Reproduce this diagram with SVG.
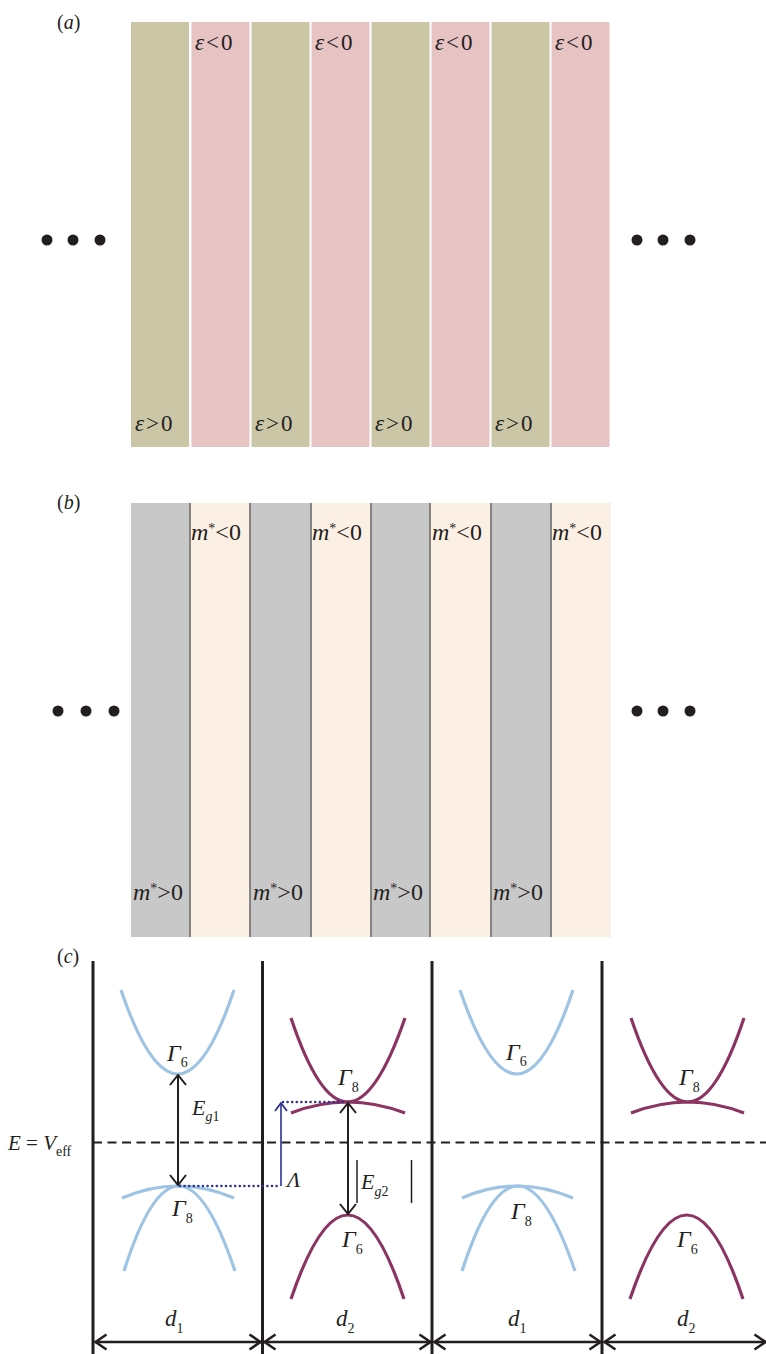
<svg xmlns="http://www.w3.org/2000/svg" width="766" height="1354" viewBox="0 0 766 1354">
<style>
.t{font-family:"Liberation Serif","Times New Roman",serif;fill:#231F20}
.i{font-style:italic}
.ol{fill:#CBC6A6}
.pk{fill:#E8C3C4}
.gr{fill:#C8C8C8}
.pc{fill:#FCEFE4}
.bd{stroke:#6D6E70;stroke-width:1.6}
.dot{fill:#231F20}
.vl{stroke:#231F20;stroke-width:3;fill:none}
.blue{fill:none;stroke:#9DC3E5;stroke-width:3.2}
.pur{fill:none;stroke:#8B3462;stroke-width:3.2}
.eps{font-size:23px;letter-spacing:2px}
.ms{font-size:24px}
.gm{font-size:24px}
.sub{font-size:14px}
.pl{font-size:20px}
.arr{stroke:#231F20;stroke-width:2;fill:none}
.darr{stroke:#231F20;stroke-width:2.6;fill:none}
.nav{stroke:#2E3192;stroke-width:1.6;fill:none}
.ndot{stroke:#2E3192;stroke-width:2.6;stroke-linecap:round;stroke-dasharray:0 4.6;fill:none}
</style>
<defs>
<marker id="hs" viewBox="0 0 12 18" refX="11" refY="9" markerWidth="12" markerHeight="18" markerUnits="userSpaceOnUse" orient="auto-start-reverse">
<path d="M1,1 L11,9 L1,17" fill="none" stroke="#231F20" stroke-width="2"/>
</marker>
<marker id="hd" viewBox="0 0 14 18" refX="13" refY="9" markerWidth="14" markerHeight="18" markerUnits="userSpaceOnUse" orient="auto-start-reverse">
<path d="M1.5,1.5 L12.5,9 L1.5,16.5" fill="none" stroke="#231F20" stroke-width="2.6"/>
</marker>
<marker id="hn" viewBox="0 0 10 14" refX="9" refY="7" markerWidth="10" markerHeight="14" markerUnits="userSpaceOnUse" orient="auto">
<path d="M1,1 L9,7 L1,13" fill="none" stroke="#2E3192" stroke-width="1.8"/>
</marker>
</defs>

<g id="panel-a">
<text class="t pl" x="57" y="29">(<tspan class="i">a</tspan>)</text>
<rect class="ol" x="131" y="22" width="58" height="425" rx="1"/>
<rect class="pk" x="191.5" y="22" width="58" height="425" rx="1"/>
<rect class="ol" x="251.5" y="22" width="58" height="425" rx="1"/>
<rect class="pk" x="311.5" y="22" width="58" height="425" rx="1"/>
<rect class="ol" x="371.5" y="22" width="58" height="425" rx="1"/>
<rect class="pk" x="431.5" y="22" width="58" height="425" rx="1"/>
<rect class="ol" x="491.5" y="22" width="58" height="425" rx="1"/>
<rect class="pk" x="551.5" y="22" width="58" height="425" rx="1"/>
<text class="t eps" x="195" y="50"><tspan class="i">ε</tspan>&lt;0</text>
<text class="t eps" x="315" y="50"><tspan class="i">ε</tspan>&lt;0</text>
<text class="t eps" x="435" y="50"><tspan class="i">ε</tspan>&lt;0</text>
<text class="t eps" x="555" y="50"><tspan class="i">ε</tspan>&lt;0</text>
<text class="t eps" x="135" y="431"><tspan class="i">ε</tspan>&gt;0</text>
<text class="t eps" x="255" y="431"><tspan class="i">ε</tspan>&gt;0</text>
<text class="t eps" x="375" y="431"><tspan class="i">ε</tspan>&gt;0</text>
<text class="t eps" x="495" y="431"><tspan class="i">ε</tspan>&gt;0</text>
<circle class="dot" cx="47" cy="240" r="5.5"/>
<circle class="dot" cx="73" cy="240" r="5.5"/>
<circle class="dot" cx="100" cy="240" r="5.5"/>
<circle class="dot" cx="637" cy="240" r="5.5"/>
<circle class="dot" cx="663" cy="240" r="5.5"/>
<circle class="dot" cx="690" cy="240" r="5.5"/>
</g>

<g id="panel-b">
<text class="t pl" x="57" y="509">(<tspan class="i">b</tspan>)</text>
<rect class="pc" x="131" y="503" width="480" height="434"/>
<rect class="gr" x="131" y="503" width="59" height="434"/>
<rect class="gr" x="250" y="503" width="61" height="434"/>
<rect class="gr" x="371" y="503" width="59" height="434"/>
<rect class="gr" x="491" y="503" width="60" height="434"/>
<g class="bd">
<line x1="190" y1="503" x2="190" y2="937"/>
<line x1="250" y1="503" x2="250" y2="937"/>
<line x1="311" y1="503" x2="311" y2="937"/>
<line x1="371" y1="503" x2="371" y2="937"/>
<line x1="430" y1="503" x2="430" y2="937"/>
<line x1="491" y1="503" x2="491" y2="937"/>
<line x1="551" y1="503" x2="551" y2="937"/>
</g>
<text class="t ms" x="191" y="540"><tspan class="i">m</tspan><tspan font-size="14" dy="-7">*</tspan><tspan dy="7">&lt;0</tspan></text>
<text class="t ms" x="312" y="540"><tspan class="i">m</tspan><tspan font-size="14" dy="-7">*</tspan><tspan dy="7">&lt;0</tspan></text>
<text class="t ms" x="432" y="540"><tspan class="i">m</tspan><tspan font-size="14" dy="-7">*</tspan><tspan dy="7">&lt;0</tspan></text>
<text class="t ms" x="552" y="540"><tspan class="i">m</tspan><tspan font-size="14" dy="-7">*</tspan><tspan dy="7">&lt;0</tspan></text>
<text class="t ms" x="133" y="900"><tspan class="i">m</tspan><tspan font-size="14" dy="-7">*</tspan><tspan dy="7">&gt;0</tspan></text>
<text class="t ms" x="253" y="900"><tspan class="i">m</tspan><tspan font-size="14" dy="-7">*</tspan><tspan dy="7">&gt;0</tspan></text>
<text class="t ms" x="373" y="900"><tspan class="i">m</tspan><tspan font-size="14" dy="-7">*</tspan><tspan dy="7">&gt;0</tspan></text>
<text class="t ms" x="493" y="900"><tspan class="i">m</tspan><tspan font-size="14" dy="-7">*</tspan><tspan dy="7">&gt;0</tspan></text>
<circle class="dot" cx="58" cy="711" r="5.5"/>
<circle class="dot" cx="86" cy="711" r="5.5"/>
<circle class="dot" cx="114" cy="711" r="5.5"/>
<circle class="dot" cx="637" cy="711" r="5.5"/>
<circle class="dot" cx="663" cy="711" r="5.5"/>
<circle class="dot" cx="690" cy="711" r="5.5"/>
</g>

<g id="panel-c">
<text class="t pl" x="57" y="963">(<tspan class="i">c</tspan>)</text>
<g id="walls">
<line class="vl" x1="93" y1="961" x2="93" y2="1354"/>
<line class="vl" x1="262.5" y1="961" x2="262.5" y2="1354"/>
<line class="vl" x1="432" y1="961" x2="432" y2="1354"/>
<line class="vl" x1="602" y1="961" x2="602" y2="1354"/>
</g>
<line x1="93" y1="1142.5" x2="766" y2="1142.5" stroke="#231F20" stroke-width="2" stroke-dasharray="9 5.5"/>
<text class="t" font-size="21" x="8" y="1150"><tspan class="i">E</tspan> = <tspan class="i">V</tspan><tspan font-size="14" dy="6">eff</tspan></text>

<g id="cell1">
<path class="blue" d="M121,990 Q178,1158 234,990"/>
<path class="blue" d="M122,1198 Q178,1174 234,1198"/>
<path class="blue" d="M124,1271 Q178,1101 235,1271"/>
<text class="t gm" x="167" y="1061"><tspan class="i">Γ</tspan><tspan class="sub" dy="6">6</tspan></text>
<text class="t gm" x="172" y="1216"><tspan class="i">Γ</tspan><tspan class="sub" dy="7">8</tspan></text>
</g>
<g id="cell2">
<path class="pur" d="M291,1018 Q347,1186 405,1018"/>
<path class="pur" d="M291,1113 Q347,1091 405,1113"/>
<path class="pur" d="M291,1299 Q348,1131 404,1299"/>
<text class="t gm" x="338" y="1085"><tspan class="i">Γ</tspan><tspan class="sub" dy="7">8</tspan></text>
<text class="t gm" x="342" y="1247"><tspan class="i">Γ</tspan><tspan class="sub" dy="7">6</tspan></text>
</g>
<g id="cell3">
<path class="blue" d="M460,990 Q517,1158 573,990"/>
<path class="blue" d="M462,1198 Q517,1174 573,1198"/>
<path class="blue" d="M462,1271 Q517,1101 575,1271"/>
<text class="t gm" x="506" y="1060"><tspan class="i">Γ</tspan><tspan class="sub" dy="6">6</tspan></text>
<text class="t gm" x="511" y="1219"><tspan class="i">Γ</tspan><tspan class="sub" dy="7">8</tspan></text>
</g>
<g id="cell4">
<path class="pur" d="M631,1018 Q688,1186 744,1018"/>
<path class="pur" d="M631,1113 Q688,1091 744,1113"/>
<path class="pur" d="M630,1299 Q687,1131 743,1299"/>
<text class="t gm" x="679" y="1085"><tspan class="i">Γ</tspan><tspan class="sub" dy="7">8</tspan></text>
<text class="t gm" x="677" y="1247"><tspan class="i">Γ</tspan><tspan class="sub" dy="7">6</tspan></text>
</g>

<g id="labels">
<text class="t" font-size="22" x="192" y="1115"><tspan class="i">E</tspan><tspan class="sub i" dy="6">g</tspan><tspan class="sub">1</tspan></text>
<text class="t" font-size="22" x="361" y="1189"><tspan class="i">E</tspan><tspan class="sub i" dy="7">g</tspan><tspan class="sub">2</tspan></text>
<text class="t i" font-size="22" x="287" y="1187">Λ</text>
<text class="t i" font-size="23" x="165" y="1326">d<tspan class="sub" font-style="normal" dy="7">1</tspan></text>
<text class="t i" font-size="23" x="336" y="1326">d<tspan class="sub" font-style="normal" dy="7">2</tspan></text>
<text class="t i" font-size="23" x="508" y="1326">d<tspan class="sub" font-style="normal" dy="7">1</tspan></text>
<text class="t i" font-size="23" x="677" y="1326">d<tspan class="sub" font-style="normal" dy="7">2</tspan></text>
</g>
</g>

<g id="connectors">
<line class="arr" x1="178" y1="1075" x2="178" y2="1185" marker-start="url(#hs)" marker-end="url(#hs)"/>
<line class="arr" x1="348" y1="1103" x2="348" y2="1214" marker-start="url(#hs)" marker-end="url(#hs)"/>
<line x1="357" y1="1160" x2="357" y2="1203" stroke="#231F20" stroke-width="1.5"/>
<line x1="411.5" y1="1160" x2="411.5" y2="1203" stroke="#231F20" stroke-width="1.5"/>
<path class="ndot" d="M180,1186 L281,1186"/>
<path class="ndot" d="M283,1102 L346,1102"/>
<line class="nav" x1="281" y1="1186" x2="281" y2="1103" marker-end="url(#hn)"/>
<line class="darr" x1="95" y1="1342" x2="261" y2="1342" marker-start="url(#hd)" marker-end="url(#hd)"/>
<line class="darr" x1="264" y1="1342" x2="431" y2="1342" marker-start="url(#hd)" marker-end="url(#hd)"/>
<line class="darr" x1="434" y1="1342" x2="601" y2="1342" marker-start="url(#hd)" marker-end="url(#hd)"/>
<line class="darr" x1="604" y1="1342" x2="766" y2="1342" marker-start="url(#hd)" marker-end="url(#hd)"/>
</g>
</svg>
